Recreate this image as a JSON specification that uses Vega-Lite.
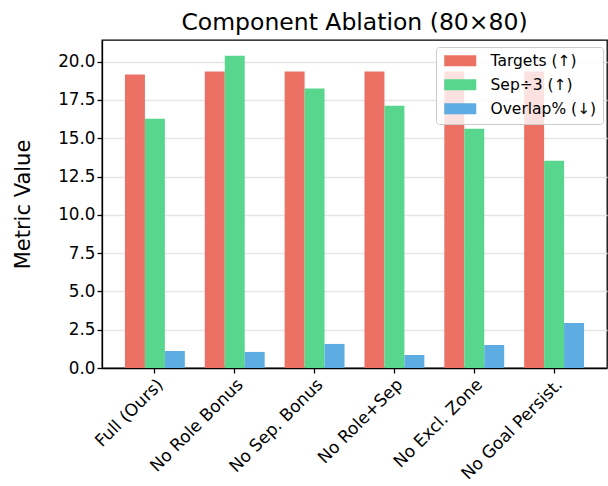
{
  "$schema": "https://vega.github.io/schema/vega-lite/v6.json",
  "width": 505,
  "height": 328,
  "autosize": {"type": "none"},
  "padding": {"left": 102, "top": 40, "right": 1, "bottom": 118},
  "background": "white",
  "title": {
    "text": "Component Ablation (80×80)",
    "font": "DejaVu Sans",
    "fontSize": 23.5,
    "fontWeight": "normal",
    "color": "black",
    "anchor": "middle",
    "baseline": "bottom",
    "offset": 6,
    "dy": 24
  },
  "data": {
    "values": [
      {"config": "Full (Ours)", "metric": "Targets (↑)", "value": 19.15},
      {"config": "Full (Ours)", "metric": "Sep÷3 (↑)", "value": 16.27},
      {"config": "Full (Ours)", "metric": "Overlap% (↓)", "value": 1.11},
      {"config": "No Role Bonus", "metric": "Targets (↑)", "value": 19.35},
      {"config": "No Role Bonus", "metric": "Sep÷3 (↑)", "value": 20.39},
      {"config": "No Role Bonus", "metric": "Overlap% (↓)", "value": 1.05},
      {"config": "No Sep. Bonus", "metric": "Targets (↑)", "value": 19.35},
      {"config": "No Sep. Bonus", "metric": "Sep÷3 (↑)", "value": 18.24},
      {"config": "No Sep. Bonus", "metric": "Overlap% (↓)", "value": 1.57},
      {"config": "No Role+Sep", "metric": "Targets (↑)", "value": 19.35},
      {"config": "No Role+Sep", "metric": "Sep÷3 (↑)", "value": 17.12},
      {"config": "No Role+Sep", "metric": "Overlap% (↓)", "value": 0.85},
      {"config": "No Excl. Zone", "metric": "Targets (↑)", "value": 19.35},
      {"config": "No Excl. Zone", "metric": "Sep÷3 (↑)", "value": 15.62},
      {"config": "No Excl. Zone", "metric": "Overlap% (↓)", "value": 1.5},
      {"config": "No Goal Persist.", "metric": "Targets (↑)", "value": 19.35},
      {"config": "No Goal Persist.", "metric": "Sep÷3 (↑)", "value": 13.53},
      {"config": "No Goal Persist.", "metric": "Overlap% (↓)", "value": 2.94}
    ]
  },
  "mark": {"type": "bar"},
  "encoding": {
    "x": {
      "field": "config",
      "type": "nominal",
      "sort": null,
      "scale": {"paddingInner": 0.25, "paddingOuter": 0.2875},
      "axis": {
        "title": null,
        "labelAngle": -45,
        "labelAlign": "right",
        "labelBaseline": "top",
        "labelFontSize": 17,
        "labelPadding": 3,
        "grid": false
      }
    },
    "xOffset": {
      "field": "metric",
      "type": "nominal",
      "sort": ["Targets (↑)", "Sep÷3 (↑)", "Overlap% (↓)"],
      "scale": {"paddingInner": 0, "paddingOuter": 0}
    },
    "y": {
      "field": "value",
      "type": "quantitative",
      "scale": {"domain": [0, 21.41], "nice": false, "zero": true},
      "axis": {
        "title": "Metric Value",
        "values": [0, 2.5, 5, 7.5, 10, 12.5, 15, 17.5, 20],
        "format": ".1f",
        "labelFontSize": 16.8,
        "titleFontSize": 21,
        "titlePadding": 24,
        "grid": true
      }
    },
    "color": {
      "field": "metric",
      "type": "nominal",
      "sort": ["Targets (↑)", "Sep÷3 (↑)", "Overlap% (↓)"],
      "scale": {
        "domain": ["Targets (↑)", "Sep÷3 (↑)", "Overlap% (↓)"],
        "range": ["#EC7063", "#58D68D", "#5DADE2"]
      },
      "legend": {
        "title": null,
        "orient": "none",
        "legendX": 334,
        "legendY": 7,
        "symbolType": "M-1,-1H4.82V1H-1Z",
        "symbolSize": 121,
        "symbolStrokeWidth": 0,
        "symbolOpacity": 1,
        "labelFontSize": 15.5,
        "labelOffset": 33,
        "rowPadding": 7,
        "padding": 6,
        "fillColor": "rgba(255,255,255,0.8)",
        "strokeColor": "#cccccc",
        "cornerRadius": 3
      }
    }
  },
  "config": {
    "font": "DejaVu Sans",
    "view": {"stroke": "black", "strokeWidth": 1.3},
    "axis": {
      "labelFont": "DejaVu Sans",
      "titleFont": "DejaVu Sans",
      "labelColor": "black",
      "titleColor": "black",
      "titleFontWeight": "normal",
      "domainColor": "black",
      "domainWidth": 1.3,
      "tickColor": "black",
      "tickSize": 5,
      "tickWidth": 1.3,
      "gridColor": "#e6e6e6",
      "gridWidth": 1.3
    },
    "legend": {
      "labelFont": "DejaVu Sans",
      "labelColor": "black"
    }
  }
}
